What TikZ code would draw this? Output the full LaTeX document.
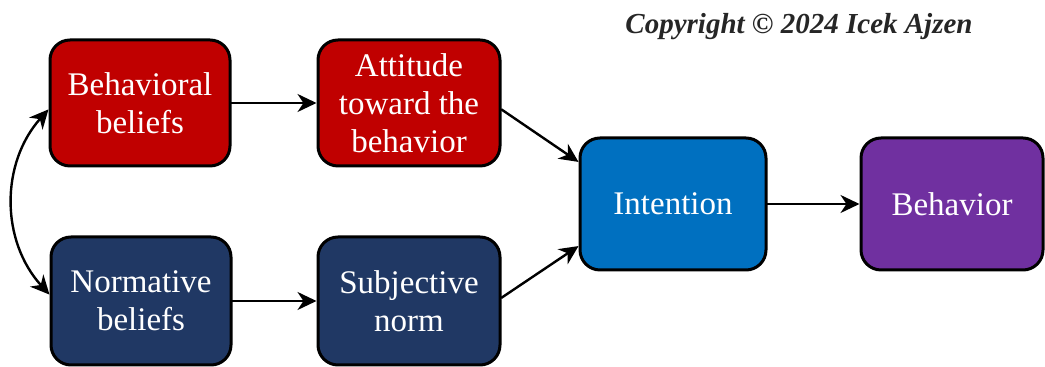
\documentclass[tikz,border=0pt]{standalone}
\usepackage{fontspec}
\setmainfont{Liberation Serif}
\usetikzlibrary{arrows.meta}
\definecolor{tpbred}{HTML}{C00000}
\definecolor{tpbnavy}{HTML}{203864}
\definecolor{tpbblue}{HTML}{0070C0}
\definecolor{tpbpurple}{HTML}{7030A0}
\begin{document}
\begin{tikzpicture}[
    x=0.5pt,y=-0.5pt,
    line cap=round,line join=round,
    box/.style={draw=black,line width=1.5pt,rounded corners=10pt,text=white,
        align=center,font=\fontsize{16.5}{19}\selectfont,inner sep=0pt},
    tip/.tip={Stealth[length=9.5pt,width=9pt,inset=3pt]},
    link/.style={line width=1.2pt,-tip}
]
    \useasboundingbox (0,0) rectangle (1045,367);
    \node[box,fill=tpbred,minimum width=90pt,minimum height=63pt] (beh) at (140,103) {Behavioral\\beliefs};
    \node[box,fill=tpbred,minimum width=91pt,minimum height=63pt] (att) at (409,103) {Attitude\\toward the\\behavior};
    \node[box,fill=tpbnavy,minimum width=90pt,minimum height=64pt] (norm) at (141,301) {Normative\\beliefs};
    \node[box,fill=tpbnavy,minimum width=91pt,minimum height=64pt] (subj) at (409,301) {Subjective\\norm};
    \node[box,fill=tpbblue,minimum width=93pt,minimum height=66pt] (intn) at (673,204) {Intention};
    \node[box,fill=tpbpurple,minimum width=91pt,minimum height=66pt] (behav) at (952,204) {Behavior};
    \node[font=\fontsize{14.5}{16}\bfseries\itshape\selectfont,text=black!85] (copy) at (799,27) {Copyright © 2024 Icek Ajzen};
    % connectors
    \draw[link] (beh) -- (att);
    \draw[link] (norm) -- (subj);
    \draw[link] (att.-4) -- (intn.156);
    \draw[link] (subj.2) -- (intn.204);
    \draw[link] (intn) -- (behav);
    \draw[link,tip-tip] (beh.184) to[bend right=42] (norm.176);
\end{tikzpicture}
\end{document}
